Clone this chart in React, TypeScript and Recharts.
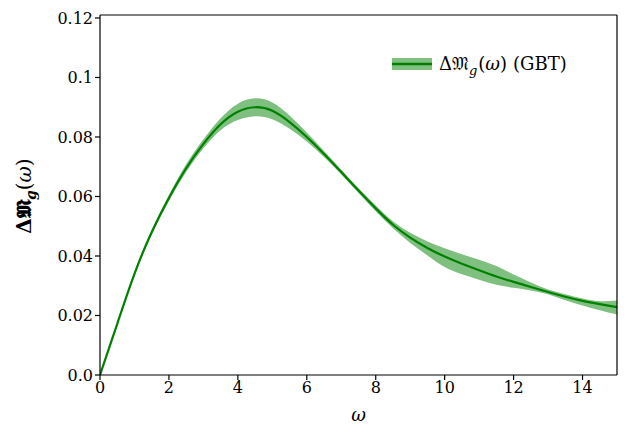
import React from 'react';
import { ComposedChart, Line, Area, XAxis, YAxis, ReferenceLine } from 'recharts';

const omega = [0, 0.5, 1, 1.5, 2, 2.5, 3, 3.5, 4, 4.5, 5, 5.5, 6, 6.5, 7, 7.5, 8, 8.5, 9, 9.5, 10, 10.5, 11, 11.5, 12, 12.5, 13, 13.5, 14, 14.5, 15];
const meanGBT = [0, 0.0172, 0.034, 0.048, 0.0595, 0.0695, 0.0777, 0.0843, 0.0885, 0.09, 0.0888, 0.085, 0.08, 0.0743, 0.0682, 0.062, 0.056, 0.0505, 0.0462, 0.0427, 0.0398, 0.0374, 0.0352, 0.0331, 0.0313, 0.0296, 0.0279, 0.0263, 0.0249, 0.0238, 0.0228];
const upperGBT = [0, 0.0177, 0.0345, 0.0488, 0.0605, 0.0708, 0.0792, 0.0863, 0.0912, 0.093, 0.0916, 0.0872, 0.0815, 0.0753, 0.069, 0.0628, 0.057, 0.0517, 0.0478, 0.0449, 0.0426, 0.0406, 0.0387, 0.0366, 0.0338, 0.0311, 0.0287, 0.0271, 0.0257, 0.0248, 0.025];
const lowerGBT = [0, 0.0167, 0.0335, 0.0472, 0.0585, 0.0682, 0.0762, 0.0823, 0.0857, 0.087, 0.086, 0.0828, 0.0785, 0.0733, 0.0674, 0.0612, 0.055, 0.0493, 0.0444, 0.0402, 0.0363, 0.0339, 0.032, 0.0303, 0.0293, 0.0284, 0.0271, 0.0251, 0.0234, 0.0218, 0.0203];
const xTicks = [0, 2, 4, 6, 8, 10, 12, 14];
const yTicks = [0, 0.02, 0.04, 0.06, 0.08, 0.1, 0.12];
const yTickLabels = ['0.0', '0.02', '0.04', '0.06', '0.08', '0.1', '0.12'];
const X_MAX = 15;
const Y_MAX = 0.121;

const data = omega.map((w, i) => ({ w, mean: meanGBT[i], band: [lowerGBT[i], upperGBT[i]] }));

const FONT = '"DejaVu Serif", serif';
const GREEN = '#008000';
const BAND = '#7fbf7f';

const LegendBox = () => (
  <svg width={240} height={30} style={{ position: 'absolute', left: 392, top: 50, overflow: 'visible' }}>
    <rect x={0} y={8} width={40} height={12} fill={BAND} />
    <line x1={0} x2={40} y1={14} y2={14} stroke={GREEN} strokeWidth={2.5} />
    <text x={47} y={20} fontFamily={FONT} fontSize={18} fill="#000">
      <tspan>Δ𝔐</tspan>
      <tspan fontStyle="italic" fontSize={13} dy={5}>g</tspan>
      <tspan dy={-5} dx={1}>(</tspan>
      <tspan fontStyle="italic">ω</tspan>
      <tspan>)</tspan>
      <tspan dx={6}>(GBT)</tspan>
    </text>
  </svg>
);

const YLabel = () => (
  <text transform="translate(31,196) rotate(-90)" textAnchor="middle" fontFamily={FONT} fontSize={20} fontWeight="bold" fill="#000">
    <tspan>Δ𝕸</tspan>
    <tspan fontStyle="italic" fontSize={14} dy={5}>g</tspan>
    <tspan dy={-5} fontWeight="normal">(</tspan>
    <tspan fontStyle="italic" fontWeight="normal">ω</tspan>
    <tspan fontWeight="normal">)</tspan>
  </text>
);

export default function App() {
  return (
    <div style={{ position: 'absolute', left: 0, top: 0, width: 629, height: 439, background: '#fff' }}>
      <ComposedChart width={629} height={439} data={data} margin={{ top: 15, right: 12, bottom: 20, left: 0 }}>
        <XAxis
          dataKey="w"
          type="number"
          domain={[0, X_MAX]}
          ticks={xTicks}
          allowDataOverflow
          height={44}
          stroke="#000"
          tickSize={5}
          tick={{ fill: '#000', fontFamily: FONT, fontSize: 16 }}
          axisLine={{ stroke: '#000', strokeWidth: 1.2 }}
          tickLine={{ stroke: '#000', strokeWidth: 1.2 }}
          label={{ value: 'ω', position: 'insideBottom', offset: -2, fontFamily: FONT, fontSize: 18, fontStyle: 'italic', fill: '#000' }}
        />
        <YAxis
          type="number"
          domain={[0, Y_MAX]}
          ticks={yTicks}
          allowDataOverflow
          width={100}
          tickSize={5}
          tickFormatter={(v: number) => yTickLabels[yTicks.indexOf(v)] ?? String(v)}
          tick={{ fill: '#000', fontFamily: FONT, fontSize: 16 }}
          axisLine={{ stroke: '#000', strokeWidth: 1.2 }}
          tickLine={{ stroke: '#000', strokeWidth: 1.2 }}
          label={<YLabel />}
        />
        <Area type="natural" dataKey="band" stroke="none" fill={BAND} fillOpacity={1} isAnimationActive={false} />
        <Line type="natural" dataKey="mean" stroke={GREEN} strokeWidth={2.2} dot={false} isAnimationActive={false} />
        <ReferenceLine x={X_MAX} stroke="#000" strokeWidth={1.2} ifOverflow="visible" />
        <ReferenceLine y={Y_MAX} stroke="#000" strokeWidth={1.2} ifOverflow="visible" />
      </ComposedChart>
      <LegendBox />
    </div>
  );
}
